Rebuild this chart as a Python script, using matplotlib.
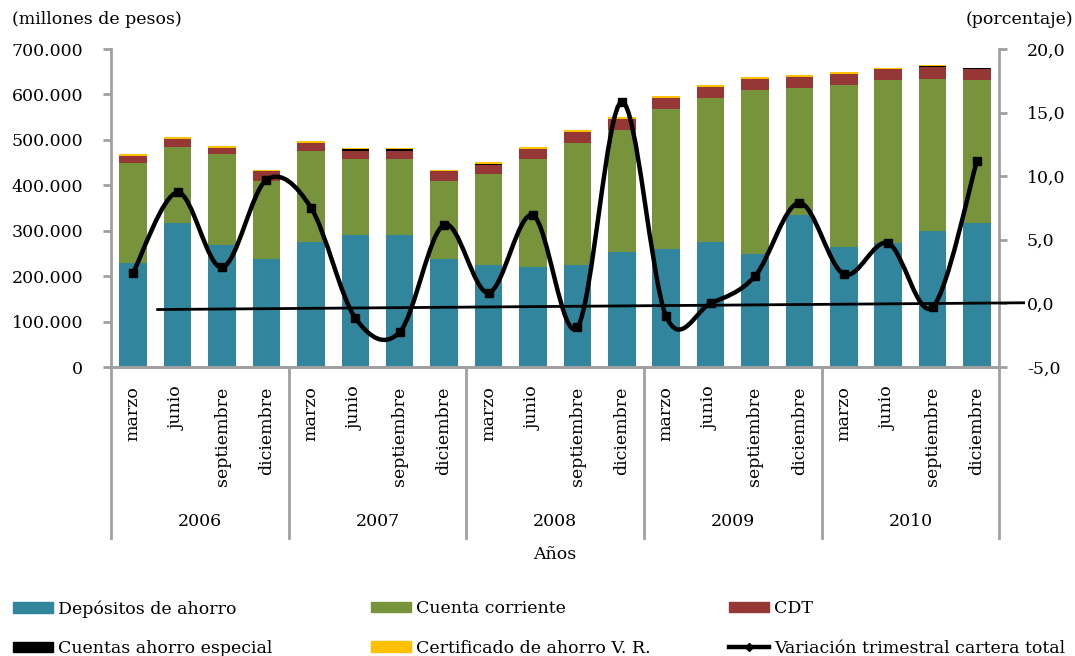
import numpy as np
import matplotlib.pyplot as plt
import matplotlib.ticker as mticker
from matplotlib.path import Path
from matplotlib.patches import PathPatch, Patch
from matplotlib.lines import Line2D
import matplotlib.transforms as mtransforms

plt.rcParams['font.family'] = ['DejaVu Serif']
plt.rcParams['font.size'] = 12.5

years = ['2006', '2007', '2008', '2009', '2010']
months = ['marzo', 'junio', 'septiembre', 'diciembre']

# millones de pesos, por trimestre
depositos = [228300, 316300, 267900, 237000, 275900, 289800, 289800, 237000, 223800, 220900,
             223800, 252500, 259100, 275800, 248100, 333900, 264800, 272200, 299400, 317000]
cuenta_corriente = [220100, 167300, 201000, 173100, 199600, 168800, 168800, 173100, 200300, 237700,
                    268600, 269200, 309500, 317000, 362300, 280300, 356600, 359600, 335200, 314800]
cdt = [16100, 19000, 13900, 20600, 17600, 17600, 17600, 20600, 21300, 20500,
       24900, 24900, 24200, 24200, 24200, 23500, 23600, 23500, 25100, 24200]
ahorro_especial = [0, 0, 0, 0, 0, 2900, 2900, 0, 2500, 0,
                   0, 0, 0, 0, 0, 0, 0, 0, 2500, 2000]
certificado = [4400, 2900, 3000, 3600, 3600, 3000, 3000, 3600, 3400, 4500,
               3700, 4400, 3700, 3800, 3800, 4400, 4400, 3500, 2600, 0]

# porcentaje
variacion = [2.43, 8.73, 2.83, 9.71, 7.54, -1.14, -2.25, 6.19, 0.84, 6.93,
             -1.88, 15.84, -1.01, 0.0, 2.14, 7.90, 2.30, 4.73, -0.29, 11.21]
tendencia = [-0.48, 0.05]

c_dep = '#31859C'
c_cc = '#77933C'
c_cdt = '#953735'
c_esp = '#000000'
c_cert = '#FFC000'
c_axis = '#A0A0A0'

fig = plt.figure(figsize=(10.75, 6.56), dpi=100)
ax = fig.add_axes([0.1033, 0.4405, 0.8262, 0.4848])
ax2 = ax.twinx()

n = len(depositos)
x = np.arange(n)
w = 0.62
bottom = np.zeros(n)
for vals, col in [(depositos, c_dep), (cuenta_corriente, c_cc), (cdt, c_cdt),
                  (ahorro_especial, c_esp), (certificado, c_cert)]:
    ax.bar(x, vals, w, bottom=bottom, color=col, linewidth=0)
    bottom += np.array(vals)

ax.set_xlim(-0.5, n - 0.5)
ax.set_ylim(0, 700000)
ax.set_yticks(np.arange(0, 700001, 100000))
ax.yaxis.set_major_formatter(mticker.FuncFormatter(lambda v, p: f'{int(v):,}'.replace(',', '.')))
ax2.set_ylim(-5, 20)
ax2.set_yticks(np.arange(-5, 20.1, 5))
ax2.yaxis.set_major_formatter(mticker.FuncFormatter(lambda v, p: f'{v:.1f}'.replace('.', ',')))

for a in (ax, ax2):
    a.spines['top'].set_visible(False)
    for s in ['left', 'right', 'bottom']:
        a.spines[s].set_color(c_axis)
        a.spines[s].set_linewidth(2)
    a.tick_params(axis='y', color=c_axis, width=2, length=6, pad=14)
ax.spines['right'].set_visible(False)
ax2.spines['left'].set_visible(False)

labels = [m for _ in years for m in months]
ax.set_xticks(x)
ax.set_xticklabels(labels, rotation=90, va='top')
ax.tick_params(axis='x', length=0, pad=14)

# separadores de años
trans = mtransforms.blended_transform_factory(ax.transData, ax.transAxes)
for k in range(len(years) + 1):
    ax.plot([k * 4 - 0.5] * 2, [0, -0.538], transform=trans, color=c_axis, lw=2,
            clip_on=False)
for k, yr in enumerate(years):
    ax.text(k * 4 + 1.5, -0.487, yr, transform=trans, ha='center', va='center')
ax.text(0.5, -0.59, 'Años', transform=ax.transAxes, ha='center', va='center')

fig.text(12 / 1075, 1 - 20 / 656, '(millones de pesos)', ha='left', va='center')
fig.text(1073 / 1075, 1 - 20 / 656, '(porcentaje)', ha='right', va='center')

# línea suavizada
yv = np.array(variacion)
verts = [(x[0], yv[0])]
codes = [Path.MOVETO]
for i in range(n - 1):
    i0 = max(i - 1, 0)
    i3 = min(i + 2, n - 1)
    p0 = np.array([x[i0], yv[i0]])
    p1 = np.array([x[i], yv[i]])
    p2 = np.array([x[i + 1], yv[i + 1]])
    p3 = np.array([x[i3], yv[i3]])
    c1 = p1 + (p2 - p0) / 6
    c2 = p2 - (p3 - p1) / 6
    verts += [tuple(c1), tuple(c2), tuple(p2)]
    codes += [Path.CURVE4] * 3
ax2.add_patch(PathPatch(Path(verts, codes), facecolor='none', edgecolor='black', lw=3.2,
                        zorder=3))
ax2.plot(x, yv, 's', color='black', ms=6, zorder=4)

# tendencia lineal
ax2.plot([x[0] + 0.55, x[-1] + 1.05], tendencia, color='black', lw=2, clip_on=False, zorder=3)

# leyenda en tres columnas
cols = [
    [(Patch(color=c_dep), 'Depósitos de ahorro'), (Patch(color=c_esp), 'Cuentas ahorro especial')],
    [(Patch(color=c_cc), 'Cuenta corriente'), (Patch(color=c_cert), 'Certificado de ahorro V. R.')],
    [(Patch(color=c_cdt), 'CDT'),
     (Line2D([], [], color='black', lw=3.2, marker='D', ms=4), 'Variación trimestral cartera total')],
]
for k, col in enumerate(cols):
    fig.legend([h for h, _ in col], [t for _, t in col],
               loc='upper left', bbox_to_anchor=((13 + k * 358) / 1075, 1 - 600 / 656),
               frameon=False, handlelength=2.3, handleheight=0.55, handletextpad=0.3,
               labelspacing=1.3, borderaxespad=0, borderpad=0, fontsize=12.5)

fig.savefig('out.png', dpi=100)
